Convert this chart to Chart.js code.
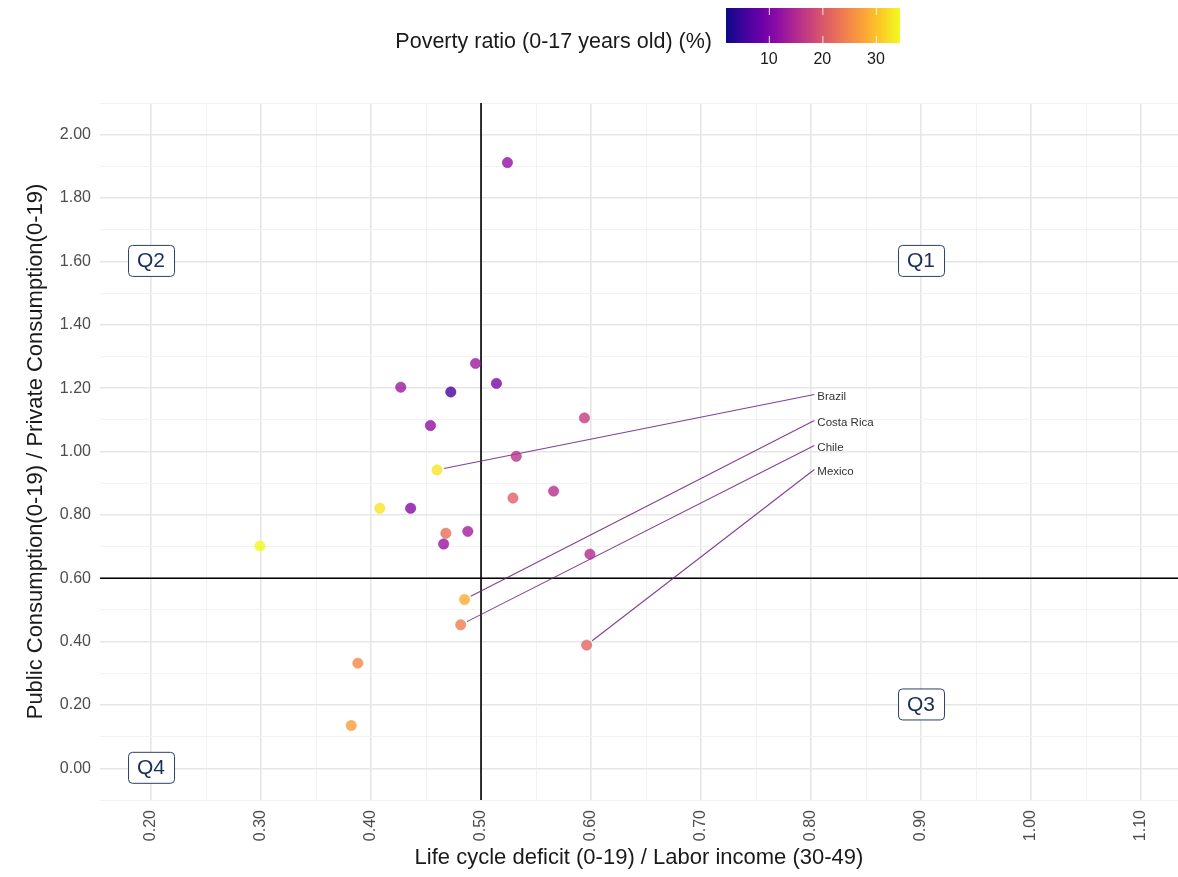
<!DOCTYPE html>
<html>
<head>
<meta charset="utf-8">
<script src="https://cdn.jsdelivr.net/npm/chart.js@4.4.0/dist/chart.umd.min.js"></script>
<style>
    html, body { margin: 0; padding: 0; background: #fff; }
    body { width: 1178px; height: 877px; position: relative; overflow: hidden; font-family: "Liberation Sans", Arial, sans-serif; }
    #chart-wrap { position: absolute; left: 0; top: 0; width: 1178px; height: 877px; }
    #legend-title { position: absolute; right: 466px; top: 29px; font-size: 21.5px; color: #1a1a1a; white-space: nowrap; }
    #legend-bar { position: absolute; left: 726px; top: 8px; width: 174px; height: 35px; }
    .legend-tick { position: absolute; top: 50px; font-size: 16px; color: #1a1a1a; transform: translateX(-50%); }
</style>
</head>
<body>
<div id="chart-wrap"><canvas id="scatter-chart" width="1178" height="877"></canvas></div>
<div id="legend-title">Poverty ratio (0-17 years old) (%)</div>
<canvas id="legend-bar" width="174" height="35"></canvas>
<div id="legend-ticks"></div>
<script>
// Data
const deficitRatio = [0.524, 0.495, 0.427, 0.4725, 0.514, 0.454, 0.594, 0.460, 0.532, 0.529, 0.566,
    0.408, 0.436, 0.468, 0.488, 0.466, 0.599, 0.299, 0.485, 0.4815, 0.596, 0.388, 0.382];
const consumptionRatio = [1.912, 1.278, 1.203, 1.188, 1.215, 1.082, 1.106, 0.942, 0.985, 0.853, 0.875,
    0.821, 0.821, 0.742, 0.748, 0.708, 0.676, 0.702, 0.533, 0.453, 0.389, 0.332, 0.135];
const povertyRatio = [12, 13, 13, 6, 10, 12, 17, 33, 16, 21, 15.5,
    33, 11, 22.5, 13.5, 12.5, 15, 34.5, 28.5, 24, 21.5, 25, 27];

// labelled countries: index into the arrays above, and where the label sits
const countryNames = ['Brazil', 'Costa Rica', 'Chile', 'Mexico'];
const countryIndex = [7, 18, 19, 20];
const labelX = [0.803, 0.803, 0.803, 0.803];
const labelY = [1.18, 1.098, 1.019, 0.943];

const quadrantNames = ['Q1', 'Q2', 'Q3', 'Q4'];
const quadrantX = [0.90, 0.20, 0.90, 0.20];
const quadrantY = [1.60, 1.60, 0.20, 0.00];

const povertyMin = 2;
const povertyMax = 34.5;
const legendTicks = [10, 20, 30];

const refX = 0.5;
const refY = 0.6;

/**
 * Plasma colour map
 */
const plasmaStops = ['#0d0887', '#41049d', '#6a00a8', '#8f0da4', '#b12a90', '#cc4778',
    '#e16462', '#f2844b', '#fca636', '#fcce25', '#f0f921'];

function hexToRgb(h) {
    return [parseInt(h.slice(1, 3), 16), parseInt(h.slice(3, 5), 16), parseInt(h.slice(5, 7), 16)];
}

function plasma(t, alpha) {
    t = Math.max(0, Math.min(1, t));
    const pos = t * (plasmaStops.length - 1);
    const i = Math.min(Math.floor(pos), plasmaStops.length - 2);
    const f = pos - i;
    const a = hexToRgb(plasmaStops[i]);
    const b = hexToRgb(plasmaStops[i + 1]);
    const c = a.map((v, k) => Math.round(v + (b[k] - v) * f));
    return `rgba(${c[0]}, ${c[1]}, ${c[2]}, ${alpha})`;
}

function povertyColor(v, alpha) {
    return plasma((v - povertyMin) / (povertyMax - povertyMin), alpha);
}

/**
 * Colour bar legend
 */
function drawLegend() {
    const bar = document.getElementById('legend-bar');
    const ctx = bar.getContext('2d');
    const w = bar.width, h = bar.height;
    for (let x = 0; x < w; x++) {
        ctx.fillStyle = plasma(x / (w - 1), 1);
        ctx.fillRect(x, 0, 1, h);
    }
    ctx.strokeStyle = 'rgba(255,255,255,0.85)';
    ctx.lineWidth = 1;
    const ticksDiv = document.getElementById('legend-ticks');
    for (const t of legendTicks) {
        const px = (t - povertyMin) / (povertyMax - povertyMin) * w;
        ctx.beginPath();
        ctx.moveTo(px + 0.5, 0); ctx.lineTo(px + 0.5, 7);
        ctx.moveTo(px + 0.5, h - 7); ctx.lineTo(px + 0.5, h);
        ctx.stroke();
        const span = document.createElement('div');
        span.className = 'legend-tick';
        span.style.left = (726 + px) + 'px';
        span.textContent = t;
        ticksDiv.appendChild(span);
    }
}

/**
 * Reference lines, label segments, country labels and quadrant boxes
 */
const annotationPlugin = {
    id: 'annotations',
    beforeDatasetsDraw(chart) {
        const { ctx, chartArea, scales: { x, y } } = chart;
        ctx.save();
        // quadrant reference lines
        ctx.strokeStyle = '#000';
        ctx.lineWidth = 1.6;
        ctx.beginPath();
        ctx.moveTo(x.getPixelForValue(refX), chartArea.top);
        ctx.lineTo(x.getPixelForValue(refX), chartArea.bottom);
        ctx.moveTo(chartArea.left, y.getPixelForValue(refY));
        ctx.lineTo(chartArea.right, y.getPixelForValue(refY));
        ctx.stroke();

        // label segments
        ctx.strokeStyle = 'rgba(110, 30, 130, 0.85)';
        ctx.lineWidth = 1.1;
        countryIndex.forEach((idx, i) => {
            const x0 = x.getPixelForValue(deficitRatio[idx]);
            const y0 = y.getPixelForValue(consumptionRatio[idx]);
            const x1 = x.getPixelForValue(labelX[i]);
            const y1 = y.getPixelForValue(labelY[i]);
            const len = Math.hypot(x1 - x0, y1 - y0);
            const gap = 7;
            ctx.beginPath();
            ctx.moveTo(x0 + (x1 - x0) * gap / len, y0 + (y1 - y0) * gap / len);
            ctx.lineTo(x1, y1);
            ctx.stroke();
        });
        ctx.restore();
    },
    afterDatasetsDraw(chart) {
        const { ctx, scales: { x, y } } = chart;
        ctx.save();
        // country labels
        ctx.fillStyle = '#333';
        ctx.font = '11.5px "Liberation Sans", Arial, sans-serif';
        ctx.textAlign = 'left';
        ctx.textBaseline = 'middle';
        countryNames.forEach((name, i) => {
            ctx.fillText(name, x.getPixelForValue(labelX[i]) + 3, y.getPixelForValue(labelY[i]) + 2);
        });

        // quadrant boxes
        ctx.font = '21px "Liberation Sans", Arial, sans-serif';
        ctx.textAlign = 'center';
        quadrantNames.forEach((q, i) => {
            const cx = x.getPixelForValue(quadrantX[i]);
            const cy = y.getPixelForValue(quadrantY[i]) - 1;
            const w = 46, h = 31;
            ctx.beginPath();
            ctx.roundRect(cx - w / 2 + 0.5, cy - h / 2 + 0.5, w, h, 4);
            ctx.fillStyle = '#fff';
            ctx.fill();
            ctx.strokeStyle = '#2b3f63';
            ctx.lineWidth = 1;
            ctx.stroke();
            ctx.fillStyle = '#1c2f55';
            ctx.fillText(q, cx, cy + 1);
        });
        ctx.restore();
    }
};

function stepTicks(min, max, step) {
    const ticks = [];
    for (let v = Math.ceil(min / step - 1e-6) * step; v <= max + 1e-9; v += step) {
        ticks.push({ value: Math.round(v * 1000) / 1000 });
    }
    return ticks;
}

function isMajor(v, step) {
    return Math.abs(v / step - Math.round(v / step)) < 1e-6;
}

function createScatterChart() {
    const ctx = document.getElementById('scatter-chart');
    const points = deficitRatio.map((v, i) => ({ x: v, y: consumptionRatio[i] }));
    const tickFont = { family: '"Liberation Sans", Arial, sans-serif', size: 16 };
    const titleFont = { family: '"Liberation Sans", Arial, sans-serif', size: 22 };

    new Chart(ctx, {
        type: 'scatter',
        data: {
            datasets: [{
                data: points,
                backgroundColor: povertyRatio.map(v => povertyColor(v, 0.8)),
                borderColor: povertyRatio.map(v => povertyColor(v, 0.9)),
                borderWidth: 0.5,
                pointRadius: 5.2,
            }]
        },
        options: {
            responsive: false,
            animation: false,
            // no auto padding, so the panel runs to the right edge
            layout: { autoPadding: false, padding: { top: 103, right: 0, left: 0, bottom: 0 } },
            plugins: {
                legend: { display: false },
                tooltip: { enabled: false }
            },
            scales: {
                x: {
                    type: 'linear',
                    min: 0.1536,
                    max: 1.1336,
                    border: { display: false },
                    afterBuildTicks: axis => { axis.ticks = stepTicks(axis.min, axis.max, 0.05); },
                    afterFit: axis => {
                        axis.height = 77;
                        axis.paddingLeft = 0;
                        axis.paddingRight = 0;
                    },
                    grid: {
                        color: c => isMajor(c.tick.value, 0.1) ? '#e6e6e6' : '#f0f0f0',
                        lineWidth: c => isMajor(c.tick.value, 0.1) ? 1.6 : 0.9,
                        drawTicks: false
                    },
                    ticks: {
                        autoSkip: false,
                        maxRotation: 90,
                        minRotation: 90,
                        padding: 10,
                        color: '#4d4d4d',
                        font: tickFont,
                        callback: v => isMajor(v, 0.1) ? v.toFixed(2) : ''
                    },
                    title: {
                        display: true,
                        text: 'Life cycle deficit (0-19) / Labor income (30-49)',
                        color: '#1a1a1a',
                        font: titleFont,
                        padding: { top: 0, bottom: 6 }
                    }
                },
                y: {
                    type: 'linear',
                    min: -0.1,
                    max: 2.1,
                    border: { display: false },
                    afterBuildTicks: axis => { axis.ticks = stepTicks(axis.min, axis.max, 0.1); },
                    afterFit: axis => {
                        axis.width = 100;
                        axis.paddingTop = 0;
                        axis.paddingBottom = 0;
                    },
                    grid: {
                        color: c => isMajor(c.tick.value, 0.2) ? '#e6e6e6' : '#f0f0f0',
                        lineWidth: c => isMajor(c.tick.value, 0.2) ? 1.6 : 0.9,
                        drawTicks: false
                    },
                    ticks: {
                        autoSkip: false,
                        padding: 9,
                        color: '#4d4d4d',
                        font: tickFont,
                        callback: v => isMajor(v, 0.2) && v > -0.05 ? v.toFixed(2) : ''
                    },
                    title: {
                        display: true,
                        text: 'Public Consumption(0-19) / Private Consumption(0-19)',
                        color: '#1a1a1a',
                        font: titleFont,
                        padding: { top: 23, bottom: 0 }
                    }
                }
            }
        },
        plugins: [annotationPlugin]
    });
}

drawLegend();
createScatterChart();
</script>
</body>
</html>
